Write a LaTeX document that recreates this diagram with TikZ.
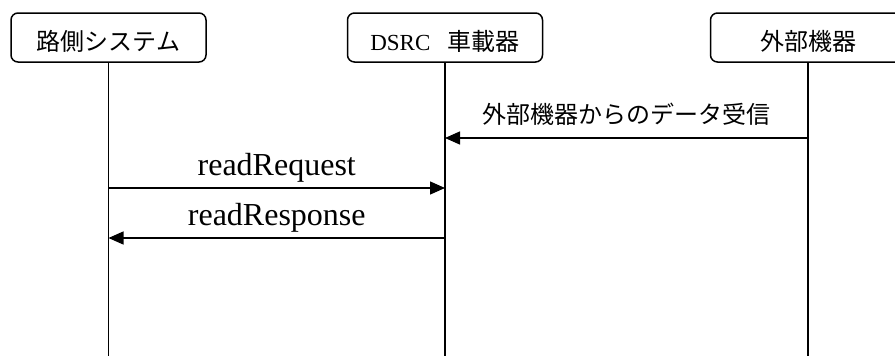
\documentclass[tikz,border=0pt]{standalone}
\usepackage{fontspec}
\setmainfont{Liberation Serif}
\newfontfamily\cjk{Noto Sans CJK JP}
\usetikzlibrary{arrows.meta, positioning}
\newcommand{\jp}[1]{{\cjk\fontsize{24}{28}\selectfont #1}}
\tikzset{
  actor/.style={draw, line width=1.5pt, rounded corners=7pt, minimum width=195pt,
    minimum height=49pt, inner sep=0pt, text height=25pt, text depth=0pt,
    font=\fontsize{23}{27}\selectfont},
  lifeline/.style={line width=1.4pt},
  msg/.style={line width=1.4pt, -{Triangle[length=15pt, width=13pt]}},
  msglabel/.style={anchor=base, inner sep=0pt, font=\fontsize{32}{36}\selectfont},
}

\begin{document}
\begin{tikzpicture}[x=1pt, y=-1pt]
  \useasboundingbox (0,0) rectangle (895,356);
  % actors
  \node[actor] (sys) at (108.5,37.5) {\jp{路側システム}};
  \node[actor] (obu) at (445,37.5) {DSRC\hspace{0.75em}\jp{車載器}};
  \node[actor] (ext) at (808,37.5) {\jp{外部機器}};
  % lifelines
  \coordinate (sys-end) at (108.5,356);
  \coordinate (obu-end) at (445,356);
  \coordinate (ext-end) at (808,356);
  \draw[lifeline] (sys) -- (sys-end);
  \draw[lifeline] (obu) -- (obu-end);
  \draw[lifeline] (ext) -- (ext-end);
  % messages
  \coordinate (ext-rx) at (808,138);
  \coordinate (obu-rx) at (445,138);
  \coordinate (sys-req) at (108.5,188);
  \coordinate (obu-req) at (445,188);
  \coordinate (obu-res) at (445,238);
  \coordinate (sys-res) at (108.5,238);
  \draw[msg] (ext-rx) -- node[msglabel, yshift=15pt] {\jp{外部機器からのデータ受信}} (obu-rx);
  \draw[msg] (sys-req) -- node[msglabel, yshift=12.5pt] {readRequest} (obu-req);
  \draw[msg] (obu-res) -- node[msglabel, yshift=12.5pt] {readResponse} (sys-res);
\end{tikzpicture}
\end{document}
